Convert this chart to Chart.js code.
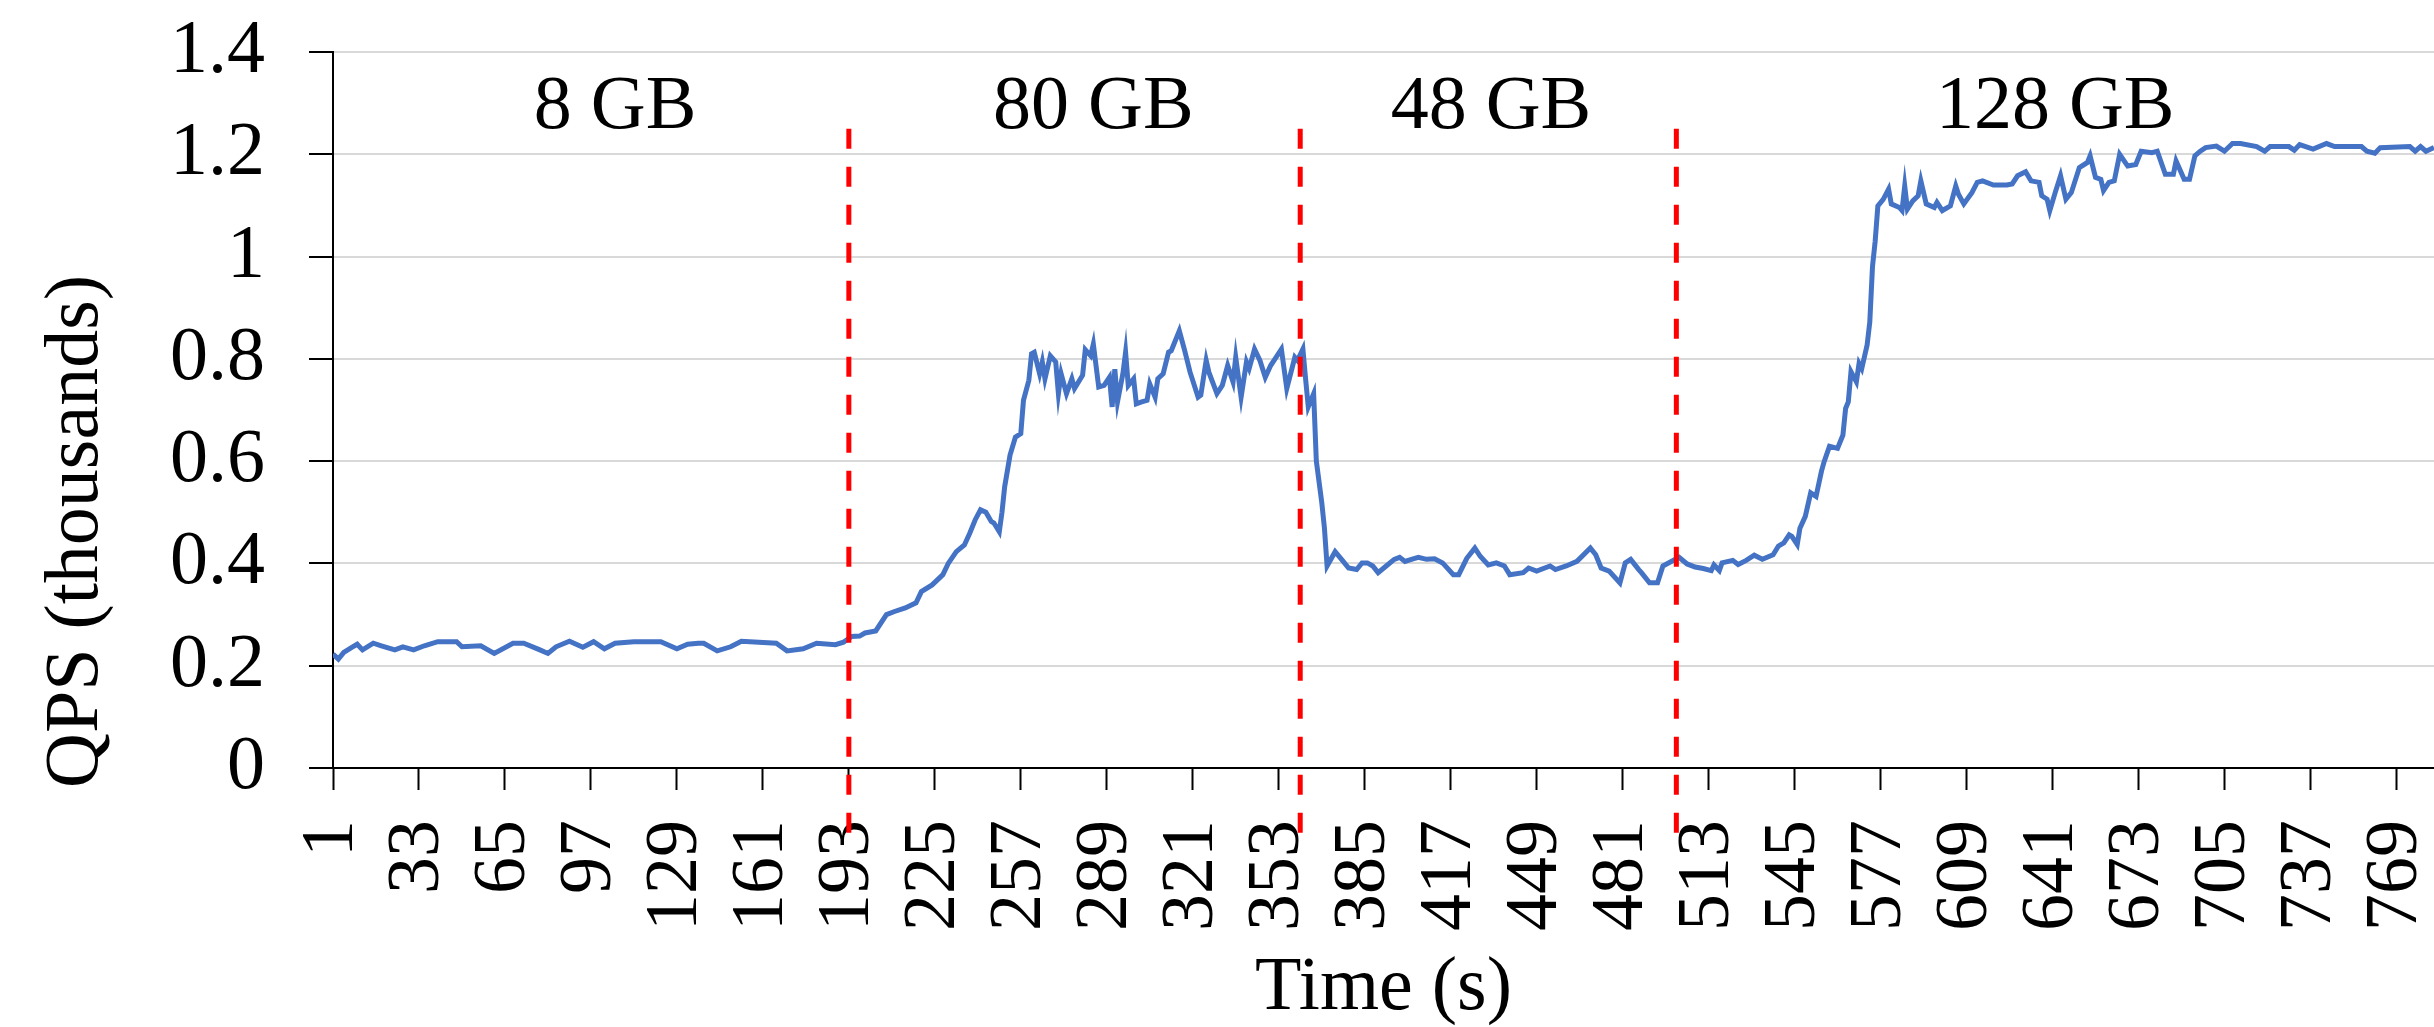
<!DOCTYPE html>
<html>
<head>
<meta charset="utf-8">
<script src="https://cdn.jsdelivr.net/npm/chart.js@4.4.1/dist/chart.umd.min.js"></script>
<style>
  body { margin: 0; background: #fff; }
  canvas { display: block; }
</style>
</head>
<body>
<canvas id="chart" width="2434" height="1027"></canvas>
<script>
// time (s) at which each reading was taken off the plot
const times = [
  1, 3, 5, 8, 10, 12, 16, 19, 24, 27, 31, 35, 40, 47, 49, 56, 61, 68, 72, 78,
  81, 84, 89, 94, 98, 102, 106, 113, 123, 129, 133, 137, 139, 144, 149, 153, 166, 170, 176, 181,
  188, 191, 194, 197, 199, 203, 207, 210, 214, 218, 220, 224, 228, 230, 233, 236, 238, 240, 242, 244,
  246, 247, 249, 250, 251, 253, 255, 257, 258, 260, 261, 262, 264, 265, 266, 268, 270, 271, 272, 274,
  276, 277, 280, 281, 283, 284, 286, 288, 290, 291, 292, 293, 295, 296, 297, 299, 300, 302, 304, 305,
  307, 308, 310, 312, 313, 316, 318, 320, 323, 324, 326, 327, 330, 332, 334, 336, 337, 339, 341, 342,
  344, 346, 348, 350, 352, 354, 356, 359, 360, 362, 363, 364, 366, 367, 369, 370, 371, 374, 377, 379,
  382, 384, 386, 388, 390, 393, 396, 398, 400, 403, 405, 408, 411, 414, 418, 420, 423, 426, 428, 431,
  434, 437, 439, 444, 446, 449, 454, 456, 460, 464, 469, 471, 473, 476, 480, 482, 484, 487, 488, 491,
  494, 496, 502, 505, 508, 511, 514, 515, 517, 518, 522, 524, 527, 530, 533, 537, 539, 541, 543, 544,
  546, 547, 549, 551, 553, 555, 556, 558, 561, 563, 564, 565, 566, 568, 569, 570, 572, 573, 574, 575,
  576, 578, 580, 581, 584, 585, 586, 587, 589, 591, 592, 594, 597, 598, 600, 603, 605, 606, 608, 611,
  613, 615, 619, 624, 626, 628, 631, 633, 636, 637, 639, 640, 642, 644, 646, 648, 651, 654, 655, 657,
  659, 660, 662, 664, 666, 669, 672, 674, 678, 680, 683, 686, 687, 690, 692, 694, 696, 698, 702, 705,
  708, 711, 717, 720, 722, 729, 731, 733, 738, 743, 746, 756, 758, 761, 763, 774, 776, 778, 780, 783
];

// QPS in thousands
const qps = [
  0.223, 0.213, 0.226, 0.236, 0.242, 0.231, 0.244, 0.239, 0.231, 0.237, 0.231, 0.239, 0.247, 0.247, 0.237, 0.239, 0.224, 0.244, 0.244, 0.231,
  0.224, 0.237, 0.248, 0.236, 0.247, 0.233, 0.244, 0.247, 0.247, 0.233, 0.242, 0.244, 0.244, 0.229, 0.237, 0.248, 0.244, 0.229, 0.233, 0.244,
  0.241, 0.246, 0.257, 0.258, 0.264, 0.268, 0.300, 0.306, 0.313, 0.323, 0.345, 0.358, 0.378, 0.400, 0.423, 0.436, 0.459, 0.485, 0.505, 0.500,
  0.482, 0.479, 0.462, 0.500, 0.550, 0.612, 0.647, 0.654, 0.719, 0.758, 0.810, 0.813, 0.771, 0.794, 0.761, 0.806, 0.794, 0.732, 0.771, 0.732,
  0.761, 0.742, 0.768, 0.818, 0.806, 0.829, 0.745, 0.748, 0.764, 0.706, 0.780, 0.716, 0.771, 0.813, 0.748, 0.761, 0.712, 0.716, 0.719, 0.751,
  0.725, 0.761, 0.771, 0.813, 0.816, 0.855, 0.816, 0.774, 0.725, 0.729, 0.797, 0.774, 0.732, 0.748, 0.787, 0.755, 0.803, 0.725, 0.794, 0.781,
  0.819, 0.797, 0.764, 0.787, 0.803, 0.819, 0.742, 0.803, 0.797, 0.819, 0.761, 0.706, 0.732, 0.600, 0.520, 0.470, 0.395, 0.423, 0.404, 0.391,
  0.388, 0.401, 0.401, 0.395, 0.382, 0.395, 0.408, 0.412, 0.404, 0.409, 0.412, 0.408, 0.409, 0.401, 0.378, 0.378, 0.410, 0.430, 0.414, 0.397,
  0.401, 0.395, 0.378, 0.382, 0.391, 0.385, 0.395, 0.388, 0.395, 0.404, 0.430, 0.417, 0.391, 0.385, 0.362, 0.401, 0.408, 0.388, 0.382, 0.362,
  0.362, 0.395, 0.412, 0.399, 0.393, 0.390, 0.386, 0.397, 0.386, 0.401, 0.406, 0.398, 0.406, 0.416, 0.408, 0.417, 0.434, 0.440, 0.456, 0.453,
  0.437, 0.469, 0.492, 0.538, 0.531, 0.580, 0.599, 0.629, 0.625, 0.651, 0.703, 0.716, 0.775, 0.755, 0.791, 0.781, 0.827, 0.872, 0.980, 1.030,
  1.099, 1.112, 1.132, 1.103, 1.096, 1.090, 1.138, 1.093, 1.109, 1.119, 1.148, 1.103, 1.096, 1.106, 1.090, 1.099, 1.138, 1.122, 1.103, 1.125,
  1.145, 1.148, 1.140, 1.140, 1.142, 1.158, 1.166, 1.148, 1.145, 1.119, 1.112, 1.090, 1.125, 1.158, 1.112, 1.125, 1.174, 1.184, 1.197, 1.155,
  1.151, 1.129, 1.145, 1.148, 1.200, 1.177, 1.180, 1.206, 1.203, 1.206, 1.161, 1.161, 1.187, 1.151, 1.151, 1.197, 1.206, 1.213, 1.216, 1.206,
  1.221, 1.221, 1.215, 1.206, 1.215, 1.215, 1.208, 1.219, 1.210, 1.221, 1.215, 1.215, 1.206, 1.202, 1.213, 1.215, 1.206, 1.215, 1.206, 1.213
];

const xTickLabels = [1, 33, 65, 97, 129, 161, 193, 225, 257, 289, 321, 353, 385, 417, 449, 481, 513, 545, 577, 609, 641, 673, 705, 737, 769];
const yTickLabels = [0, 0.2, 0.4, 0.6, 0.8, 1, 1.2, 1.4];

// memory size changes (s) and the label of each phase
const memChanges = [193, 361, 501];
const phaseLabels = ['8 GB', '80 GB', '48 GB', '128 GB'];
const phaseLabelAt = [106, 284, 432, 642];

const FONT = 'Liberation Serif, Times New Roman, serif';

const phasePlugin = {
  id: 'phases',
  afterDraw(chart) {
    const { ctx, scales: { x, y } } = chart;
    ctx.save();
    // red dashed separators
    ctx.strokeStyle = '#FF0000';
    ctx.lineWidth = 5;
    ctx.setLineDash([20, 18]);
    memChanges.forEach(t => {
      const px = x.getPixelForValue(t);
      ctx.beginPath();
      ctx.moveTo(px, y.getPixelForValue(1.25));
      ctx.lineTo(px, y.getPixelForValue(-0.15));
      ctx.stroke();
    });
    ctx.setLineDash([]);
    // phase labels
    ctx.fillStyle = '#000';
    ctx.font = '76px ' + FONT;
    ctx.textAlign = 'center';
    ctx.textBaseline = 'alphabetic';
    phaseLabels.forEach((lbl, i) => {
      ctx.fillText(lbl, x.getPixelForValue(phaseLabelAt[i]), y.getPixelForValue(1.252));
    });
    // y axis title, set a little below the axis start like the original
    ctx.translate(77, y.bottom + 20);
    ctx.rotate(-Math.PI / 2);
    ctx.textAlign = 'left';
    ctx.textBaseline = 'middle';
    ctx.fillText('QPS (thousands)', 0, 0);
    ctx.restore();
  }
};

new Chart(document.getElementById('chart'), {
  type: 'line',
  data: {
    datasets: [{
      label: 'QPS',
      data: times.map((t, i) => ({ x: t, y: qps[i] })),
      borderColor: '#4472C4',
      borderWidth: 5,
      pointRadius: 0,
      tension: 0,
      fill: false
    }]
  },
  options: {
    responsive: false,
    animation: false,
    devicePixelRatio: 1,
    layout: { padding: { top: 52, right: 0, left: 0, bottom: 0 } },
    plugins: { legend: { display: false }, tooltip: { enabled: false } },
    scales: {
      x: {
        type: 'linear',
        min: 1,
        max: 783,
        afterBuildTicks: s => { s.ticks = xTickLabels.map(v => ({ value: v })); },
        afterFit: s => { s.height = 259; s.paddingLeft = 0; s.paddingRight = 0; },
        ticks: {
          autoSkip: false,
          minRotation: 90,
          maxRotation: 90,
          padding: 30,
          color: '#000',
          font: { family: FONT, size: 74 },
          callback: v => String(v)
        },
        grid: {
          drawOnChartArea: false,
          drawTicks: true,
          tickLength: 22,
          tickColor: '#000',
          tickWidth: 2
        },
        border: { color: '#000', width: 2 },
        title: {
          display: true,
          text: 'Time (s)',
          color: '#000',
          font: { family: FONT, size: 76, lineHeight: 1 },
          padding: { top: 0, bottom: 0 }
        }
      },
      y: {
        min: 0,
        max: 1.4,
        afterBuildTicks: s => { s.ticks = yTickLabels.map(v => ({ value: v })); },
        afterFit: s => { s.width = 333; s.paddingTop = 0; s.paddingBottom = 0; },
        ticks: {
          padding: 44,
          color: '#000',
          font: { family: FONT, size: 76 },
          callback: v => String(v)
        },
        grid: {
          color: c => (c.tick && c.tick.value === 0 ? 'rgba(0,0,0,0)' : '#D9D9D9'),
          lineWidth: 2,
          drawTicks: true,
          tickLength: 24,
          tickColor: '#000',
          tickWidth: 2
        },
        border: { color: '#000', width: 2 }
      }
    }
  },
  plugins: [phasePlugin]
});
</script>
</body>
</html>
